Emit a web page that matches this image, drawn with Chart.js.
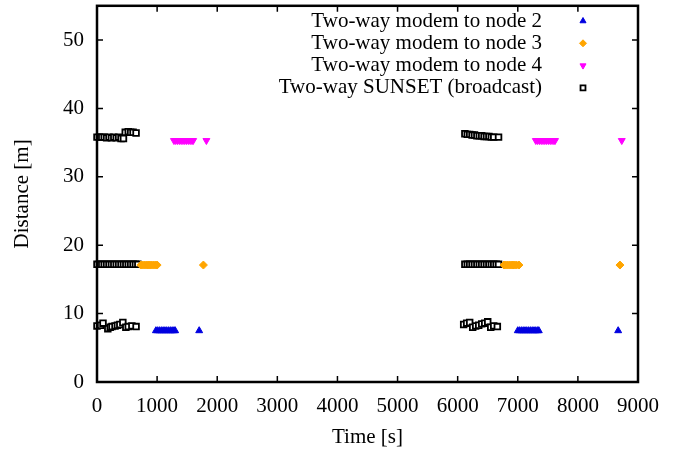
<!DOCTYPE html>
<html lang="en">
<head>
<meta charset="utf-8">
<title>Distance vs time</title>
<style>
  body { margin: 0; background: #fff; }
  .chartBox { width: 686px; height: 450px; }
</style>
</head>
<body>

<div class="chartBox">
  <canvas id="myChart"></canvas>
</div>

<script src="https://cdn.jsdelivr.net/npm/chart.js@4.4.0/dist/chart.umd.min.js"></script>
<script>
// series data (time in s, distance in m)
const node2X = [980,1010,1040,1070,1100,1130,1160,1190,1220,1250,1280,1300,1700,
  7000,7030,7060,7090,7120,7150,7180,7210,7240,7270,7300,7330,7350,8670];
const node2Y = [7.5,7.5,7.5,7.5,7.5,7.5,7.5,7.5,7.5,7.5,7.5,7.5,7.5,
  7.5,7.5,7.5,7.5,7.5,7.5,7.5,7.5,7.5,7.5,7.5,7.5,7.5,7.5];

const node3X = [730,760,790,820,850,880,910,940,970,1000,1770,
  6770,6800,6830,6860,6890,6920,6950,6980,7020,8700];
const node3Y = [17.1,17.1,17.1,17.1,17.1,17.1,17.1,17.1,17.1,17.1,17.1,
  17.1,17.1,17.1,17.1,17.1,17.1,17.1,17.1,17.1,17.1];

const node4X = [1280,1310,1340,1370,1400,1430,1460,1490,1520,1550,1580,1600,1820,
  7300,7330,7360,7390,7420,7450,7480,7510,7540,7570,7600,7620,8730];
const node4Y = [35.3,35.3,35.3,35.3,35.3,35.3,35.3,35.3,35.3,35.3,35.3,35.3,35.3,
  35.3,35.3,35.3,35.3,35.3,35.3,35.3,35.3,35.3,35.3,35.3,35.3,35.3];

const sunsetX = [
  0,40,80,120,160,200,240,280,320,360,400,440, 470,520,560,600,650,
  6120,6160,6200,6240,6280,6320,6360,6400,6440,6480,6520,6560,6600,6680,
  0,40,80,120,160,200,240,280,320,360,400,440,480,520,560,600,640,680,
  6120,6160,6200,6240,6280,6320,6360,6400,6440,6480,6520,6560,6600,6640,6680,
  0,60,100,180,220,250,300,340,380,430,480,520,580,650,
  6100,6150,6200,6250,6300,6350,6400,6450,6500,6550,6600,6660
];
const sunsetY = [
  35.8,35.8,35.8,35.8,35.7,35.8,35.7,35.8,35.7,35.8,35.6,35.6, 36.5,36.6,36.5,36.5,36.4,
  36.3,36.2,36.2,36.1,36.1,36.0,36.0,36.0,35.9,35.9,35.9,35.8,35.8,35.8,
  17.2,17.2,17.2,17.2,17.2,17.2,17.2,17.2,17.2,17.2,17.2,17.2,17.2,17.2,17.2,17.2,17.2,17.2,
  17.2,17.2,17.2,17.2,17.2,17.2,17.2,17.2,17.2,17.2,17.2,17.2,17.2,17.2,17.2,
  8.2,8.3,8.6,7.8,8.0,8.1,8.2,8.3,8.4,8.7,8.0,8.1,8.2,8.1,
  8.4,8.6,8.7,8.0,8.2,8.3,8.5,8.6,8.8,8.0,8.2,8.1
];

const xTicks = [0,1000,2000,3000,4000,5000,6000,7000,8000,9000];
const yTicks = [0,10,20,30,40,50];

function pairs(xs, ys) {
  return xs.map((x, i) => ({ x: x, y: ys[i] }));
}

const serif = "'Liberation Serif', 'DejaVu Serif', serif";
const fontSize = 21;

// gnuplot-like key: right-aligned text, marker on the right
const keyBox = {
  id: 'keyBox',
  afterDraw(chart) {
    const { ctx } = chart;
    ctx.save();
    ctx.font = fontSize + 'px ' + serif;
    ctx.textAlign = 'right';
    ctx.textBaseline = 'middle';
    chart.data.datasets.forEach((ds, i) => {
      const y = 21 + i * 22.3;
      ctx.fillStyle = '#000';
      ctx.fillText(ds.label, 542, y);
      ctx.strokeStyle = ds.borderColor;
      ctx.fillStyle = ds.backgroundColor;
      ctx.lineWidth = ds.borderWidth;
      Chart.helpers.drawPoint(ctx, {
        pointStyle: ds.pointStyle, radius: ds.pointRadius - 0.5,
        rotation: ds.rotation || 0, borderWidth: ds.borderWidth
      }, 583, y);
    });
    ctx.restore();
  }
};

// thick frame with inward ticks on all four sides
const frame = {
  id: 'frame',
  afterDatasetsDraw(chart) {
    const { ctx, chartArea: a, scales } = chart;
    ctx.save();
    ctx.strokeStyle = '#000';
    ctx.lineWidth = 1.5;
    ctx.beginPath();
    xTicks.forEach(v => {
      const px = scales.x.getPixelForValue(v);
      ctx.moveTo(px, a.bottom); ctx.lineTo(px, a.bottom - 6);
      ctx.moveTo(px, a.top); ctx.lineTo(px, a.top + 6);
    });
    yTicks.forEach(v => {
      const py = scales.y.getPixelForValue(v);
      ctx.moveTo(a.left, py); ctx.lineTo(a.left + 6, py);
      ctx.moveTo(a.right, py); ctx.lineTo(a.right - 6, py);
    });
    ctx.stroke();
    ctx.lineWidth = 2.5;
    ctx.strokeRect(a.left, a.top, a.right - a.left, a.bottom - a.top);
    ctx.restore();
  }
};

const common = { showLine: false, clip: false, pointHoverRadius: 4 };

const ctx = document.getElementById('myChart').getContext('2d');
const myChart = new Chart(ctx, {
  type: 'scatter',
  data: {
    datasets: [
      Object.assign({
        label: 'Two-way modem to node 2',
        data: pairs(node2X, node2Y),
        pointStyle: 'triangle', pointRadius: 4,
        backgroundColor: '#0000e0', borderColor: '#0000e0', borderWidth: 1
      }, common),
      Object.assign({
        label: 'Two-way modem to node 3',
        data: pairs(node3X, node3Y),
        pointStyle: 'rectRot', pointRadius: 4,
        backgroundColor: '#ffa500', borderColor: '#ffa500', borderWidth: 1
      }, common),
      Object.assign({
        label: 'Two-way modem to node 4',
        data: pairs(node4X, node4Y),
        pointStyle: 'triangle', rotation: 180, pointRadius: 4,
        backgroundColor: '#ff00ff', borderColor: '#ff00ff', borderWidth: 1
      }, common),
      Object.assign({
        label: 'Two-way SUNSET (broadcast)',
        data: pairs(sunsetX, sunsetY),
        pointStyle: 'rect', pointRadius: 4,
        backgroundColor: '#fff', borderColor: '#000', borderWidth: 1.8
      }, common)
    ]
  },
  options: {
    responsive: true,
    maintainAspectRatio: false,
    animation: false,
    layout: { padding: { top: 5, right: 48, left: 0, bottom: 0 } },
    plugins: {
      legend: { display: false },
      tooltip: { enabled: false }
    },
    scales: {
      x: {
        type: 'linear', min: 0, max: 9000,
        afterBuildTicks: s => { s.ticks = xTicks.map(v => ({ value: v })); },
        afterFit: s => { s.height = 68; s.paddingLeft = 0; s.paddingRight = 0; },
        grid: { display: false, drawTicks: false },
        border: { display: false },
        ticks: {
          color: '#000', padding: 12, maxRotation: 0,
          callback: v => String(v),
          font: { family: serif, size: fontSize }
        },
        title: { display: true, text: 'Time [s]', color: '#000', padding: { top: 12, bottom: 0 }, font: { family: serif, size: fontSize } }
      },
      y: {
        type: 'linear', min: 0, max: 55,
        afterBuildTicks: s => { s.ticks = yTicks.map(v => ({ value: v })); },
        afterFit: s => { s.width = 97; s.paddingTop = 0; s.paddingBottom = 0; },
        grid: { display: false, drawTicks: false },
        border: { display: false },
        ticks: { color: '#000', padding: 13, font: { family: serif, size: fontSize } },
        title: { display: true, text: 'Distance [m]', color: '#000', padding: { top: 10, bottom: 0 }, font: { family: serif, size: fontSize } }
      }
    }
  },
  plugins: [frame, keyBox]
});
</script>
</body>
</html>
